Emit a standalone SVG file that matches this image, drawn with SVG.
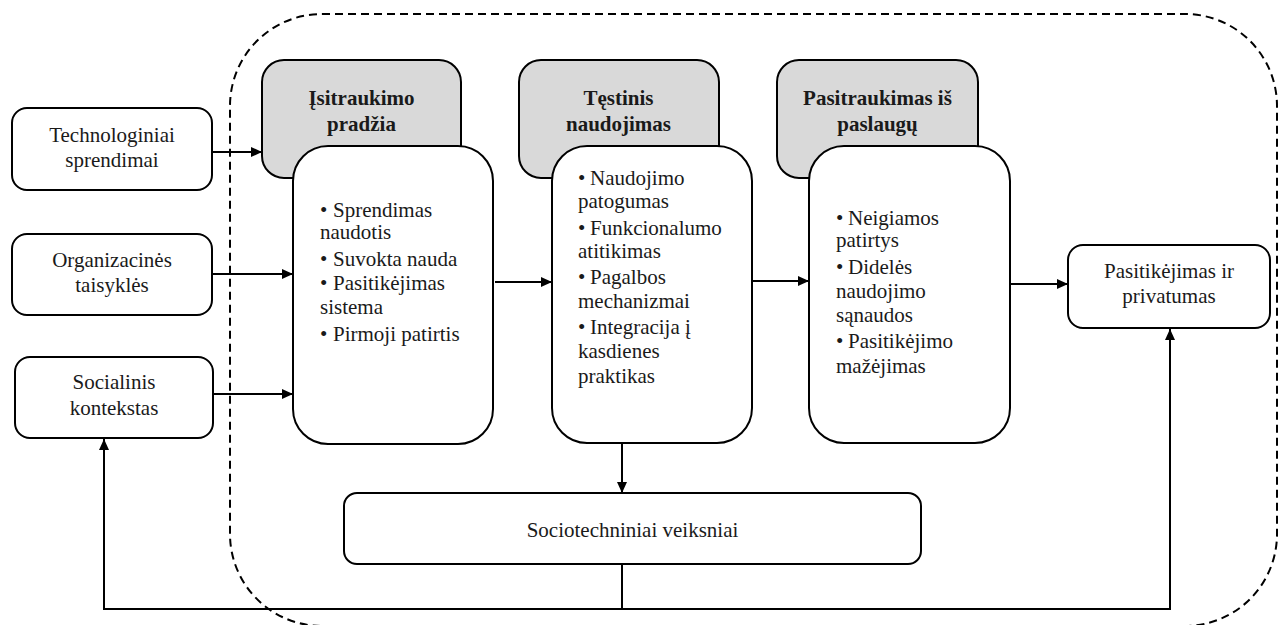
<svg xmlns="http://www.w3.org/2000/svg" width="1280" height="625" viewBox="0 0 1280 625">
<defs>
<style>
text{font-size:21px;fill:#1a1a1a}
.b{font-weight:bold}
.c{text-anchor:middle}
.box{fill:#fff;stroke:#000;stroke-width:2}
.hdr{fill:#d9d9d9;stroke:#000;stroke-width:2}
.ln{fill:none;stroke:#000;stroke-width:2}
</style>
<marker id="ah" markerUnits="userSpaceOnUse" markerWidth="11" markerHeight="10" refX="11" refY="5" orient="auto">
<path d="M0,0 L11,5 L0,10 z" fill="#000"/>
</marker>
</defs>
<rect width="1280" height="625" fill="#fff"/>
<g font-family="'Liberation Serif', Tinos, 'Times New Roman', 'DejaVu Serif', serif">
<g id="container">
<rect x="230" y="14" width="1047" height="612" rx="92" ry="92" fill="none" stroke="#000" stroke-width="2" stroke-dasharray="8 5"/>
</g>
<g id="tech">
<rect class="box" x="12" y="108" width="200" height="82" rx="15"/>
<text class="c"><tspan x="112" y="142">Technologiniai</tspan><tspan x="112" y="167">sprendimai</tspan></text>
</g>
<g id="org">
<rect class="box" x="12" y="234" width="200" height="81" rx="15"/>
<text class="c"><tspan x="112" y="267">Organizacinės</tspan><tspan x="112" y="292">taisyklės</tspan></text>
</g>
<g id="social">
<rect class="box" x="15" y="357" width="198" height="81" rx="15"/>
<text class="c"><tspan x="114" y="389">Socialinis</tspan><tspan x="114" y="415">kontekstas</tspan></text>
</g>
<g id="stage1">
<rect class="hdr" x="262" y="60" width="199" height="118" rx="22"/>
<text class="b c"><tspan x="361.5" y="105">Įsitraukimo</tspan><tspan x="361.5" y="131">pradžia</tspan></text>
<rect class="box" x="293" y="146" width="200" height="298" rx="35"/>
<text>
<tspan x="320" y="217">•</tspan><tspan x="333" y="217">Sprendimas</tspan>
<tspan x="320" y="239">naudotis</tspan>
<tspan x="320" y="266">•</tspan><tspan x="333" y="266">Suvokta nauda</tspan>
<tspan x="320" y="290">•</tspan><tspan x="333" y="290">Pasitikėjimas</tspan>
<tspan x="320" y="314">sistema</tspan>
<tspan x="320" y="341">•</tspan><tspan x="333" y="341">Pirmoji patirtis</tspan>
</text>
</g>
<g id="stage2">
<rect class="hdr" x="519" y="60" width="200" height="118" rx="22"/>
<text class="b c"><tspan x="618.5" y="105">Tęstinis</tspan><tspan x="618.5" y="131">naudojimas</tspan></text>
<rect class="box" x="552" y="146" width="200" height="297" rx="35"/>
<text>
<tspan x="578" y="185">•</tspan><tspan x="590" y="185">Naudojimo</tspan>
<tspan x="578" y="208">patogumas</tspan>
<tspan x="578" y="235">•</tspan><tspan x="590" y="235">Funkcionalumo</tspan>
<tspan x="578" y="258">atitikimas</tspan>
<tspan x="578" y="284">•</tspan><tspan x="590" y="284">Pagalbos</tspan>
<tspan x="578" y="308">mechanizmai</tspan>
<tspan x="578" y="334">•</tspan><tspan x="590" y="334">Integracija į</tspan>
<tspan x="578" y="358">kasdienes</tspan>
<tspan x="578" y="383">praktikas</tspan>
</text>
</g>
<g id="stage3">
<rect class="hdr" x="777" y="60" width="201" height="118" rx="22"/>
<text class="b c"><tspan x="877.5" y="105">Pasitraukimas iš</tspan><tspan x="877.5" y="131">paslaugų</tspan></text>
<rect class="box" x="809" y="146" width="201" height="297" rx="35"/>
<text>
<tspan x="836" y="225">•</tspan><tspan x="848" y="225">Neigiamos</tspan>
<tspan x="836" y="247">patirtys</tspan>
<tspan x="836" y="274">•</tspan><tspan x="848" y="274">Didelės</tspan>
<tspan x="836" y="298">naudojimo</tspan>
<tspan x="836" y="322">sąnaudos</tspan>
<tspan x="836" y="348">•</tspan><tspan x="848" y="348">Pasitikėjimo</tspan>
<tspan x="836" y="373">mažėjimas</tspan>
</text>
</g>
<g id="trust">
<rect class="box" x="1068" y="245" width="202" height="83" rx="15"/>
<text class="c"><tspan x="1169" y="278">Pasitikėjimas ir</tspan><tspan x="1169" y="303">privatumas</tspan></text>
</g>
<g id="socio">
<rect class="box" x="344" y="493" width="577" height="71" rx="13"/>
<text class="c" x="632.5" y="537">Sociotechniniai veiksniai</text>
</g>
<g id="connectors">
<path class="ln" d="M213,152 L262,152" marker-end="url(#ah)"/>
<path class="ln" d="M213,274 L293,274" marker-end="url(#ah)"/>
<path class="ln" d="M214,394 L293,394" marker-end="url(#ah)"/>
<path class="ln" d="M495,282 L552,282" marker-end="url(#ah)"/>
<path class="ln" d="M753,281 L809,281" marker-end="url(#ah)"/>
<path class="ln" d="M1011,284 L1068,284" marker-end="url(#ah)"/>
<path class="ln" d="M622,444 L622,493" marker-end="url(#ah)"/>
<path class="ln" d="M622,564 L622,609"/>
<path class="ln" d="M103,609 L1171,609"/>
<path class="ln" d="M104,610 L104,439" marker-end="url(#ah)"/>
<path class="ln" d="M1170,610 L1170,329" marker-end="url(#ah)"/>
</g>
</g>
</svg>
